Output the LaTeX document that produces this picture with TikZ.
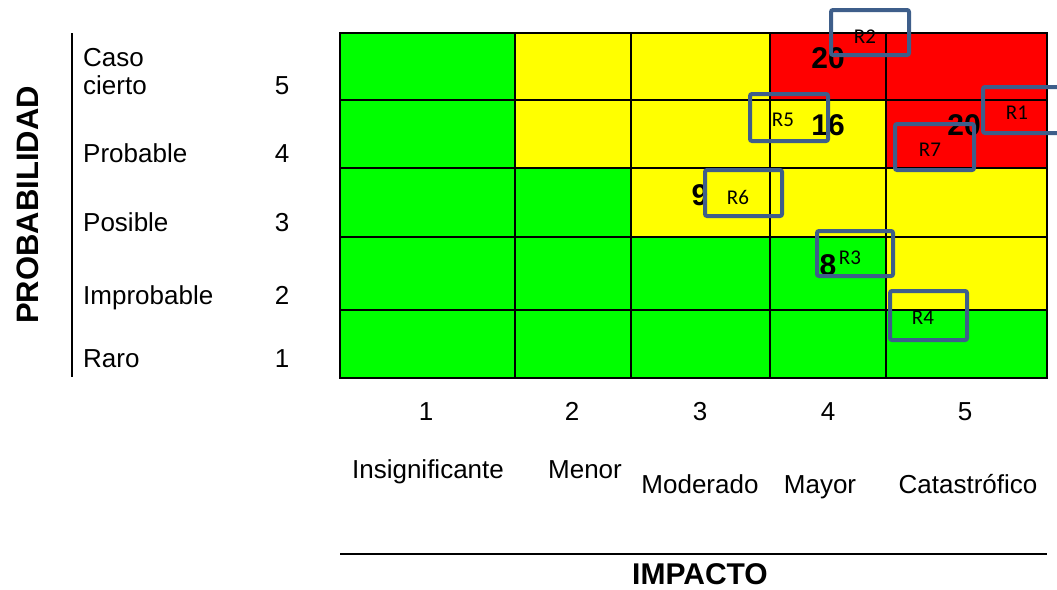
\documentclass[tikz,border=0pt]{standalone}
\usepackage{fontspec}
\setmainfont{Liberation Sans}
\newfontfamily\carl{Carlito}
\definecolor{cgreen}{RGB}{0,255,0}
\definecolor{cyellow}{RGB}{255,255,0}
\definecolor{cred}{RGB}{255,0,0}
\definecolor{boxblue}{RGB}{62,94,138}
\begin{document}
\begin{tikzpicture}[x=1pt,y=-1pt,
  lbl/.style={font=\fontsize{26}{30}\selectfont, inner sep=0pt},
  big/.style={font=\fontsize{30}{34}\selectfont\bfseries, inner sep=0pt},
  rbox/.style={draw=boxblue, line width=4pt, rounded corners=2pt, inner sep=0pt},
  rlab/.style={font=\carl\fontsize{21}{24}\selectfont, inner sep=0pt},
  gridline/.style={line width=2pt}]
\useasboundingbox (0,0) rectangle (1057,589);
\clip (0,0) rectangle (1057,589);
% cell fills
\fill[cgreen] (340,33) rectangle (1047,378);
\fill[cyellow] (515,33) rectangle (770,168);
\fill[cyellow] (770,100) rectangle (886,237);
\fill[cyellow] (631,168) rectangle (770,237);
\fill[cyellow] (886,168) rectangle (1047,310);
\fill[cred] (770,33) rectangle (1047,100);
\fill[cred] (886,100) rectangle (1047,168);
% grid
\draw[gridline] (340,33) rectangle (1047,378);
\foreach \x in {515,631,770,886} \draw[gridline] (\x,33) -- (\x,378);
\foreach \y in {100,168,237,310} \draw[gridline] (340,\y) -- (1047,\y);
% left axis
\draw[line width=2pt] (72,33) -- (72,377);
\node[big, font=\fontsize{31}{35}\selectfont\bfseries, rotate=90] (prob) at (28,205) {PROBABILIDAD};
\node[lbl, anchor=base west] (caso) at (83,66) {Caso};
\node[lbl, anchor=base west] (cierto) at (83,94) {cierto};
\node[lbl, anchor=base west] (probable) at (83,162) {Probable};
\node[lbl, anchor=base west] (posible) at (83,231) {Posible};
\node[lbl, anchor=base west] (improbable) at (83,304) {Improbable};
\node[lbl, anchor=base west] (raro) at (83,367) {Raro};
\node[lbl, anchor=base] (p5) at (282,94) {5};
\node[lbl, anchor=base] (p4) at (282,162) {4};
\node[lbl, anchor=base] (p3) at (282,231) {3};
\node[lbl, anchor=base] (p2) at (282,304) {2};
\node[lbl, anchor=base] (p1) at (282,367) {1};
% bottom axis
\node[lbl, anchor=base] (i1) at (426,420) {1};
\node[lbl, anchor=base] (i2) at (572,420) {2};
\node[lbl, anchor=base] (i3) at (700,420) {3};
\node[lbl, anchor=base] (i4) at (828,420) {4};
\node[lbl, anchor=base] (i5) at (965,420) {5};
\node[lbl, anchor=base] (insig) at (428,478) {Insignificante};
\node[lbl, anchor=base] (menor) at (585,478) {Menor};
\node[lbl, anchor=base] (moder) at (700,493) {Moderado};
\node[lbl, anchor=base] (mayor) at (820,493) {Mayor};
\node[lbl, anchor=base] (catas) at (968,493) {Catastrófico};
\draw[line width=2.5pt] (340,554) -- (1047,554);
\node[big, anchor=base] (impacto) at (700,584) {IMPACTO};
% scores
\node[big, anchor=base] (s20a) at (828,68) {20};
\node[big, anchor=base] (s16) at (828,135) {16};
\node[big, anchor=base] (s20b) at (964,135) {20};
\node[big, anchor=base] (s9) at (700,205) {9};
\node[big, anchor=base] (s8) at (828,275) {8};
% risk boxes
\node[rbox, minimum width=78pt, minimum height=45pt] (b2) at (870,32.5) {};
\node[rbox, minimum width=107pt, minimum height=46pt] (b1) at (1036.5,110) {};
\node[rbox, minimum width=78pt, minimum height=47pt] (b5) at (789,117.5) {};
\node[rbox, minimum width=79pt, minimum height=46pt] (b7) at (934.5,147) {};
\node[rbox, minimum width=77pt, minimum height=46pt] (b6) at (743.5,193) {};
\node[rbox, minimum width=76pt, minimum height=45pt] (b3) at (855,253.5) {};
\node[rbox, minimum width=77pt, minimum height=49pt] (b4) at (928.5,315.5) {};
\node[rlab] (l2) at (865,37) {R2};
\node[rlab] (l1) at (1017,113) {R1};
\node[rlab] (l5) at (783,120) {R5};
\node[rlab] (l7) at (930,150) {R7};
\node[rlab] (l6) at (738,197) {R6};
\node[rlab] (l3) at (850,258) {R3};
\node[rlab] (l4) at (923,318) {R4};
\end{tikzpicture}
\end{document}
